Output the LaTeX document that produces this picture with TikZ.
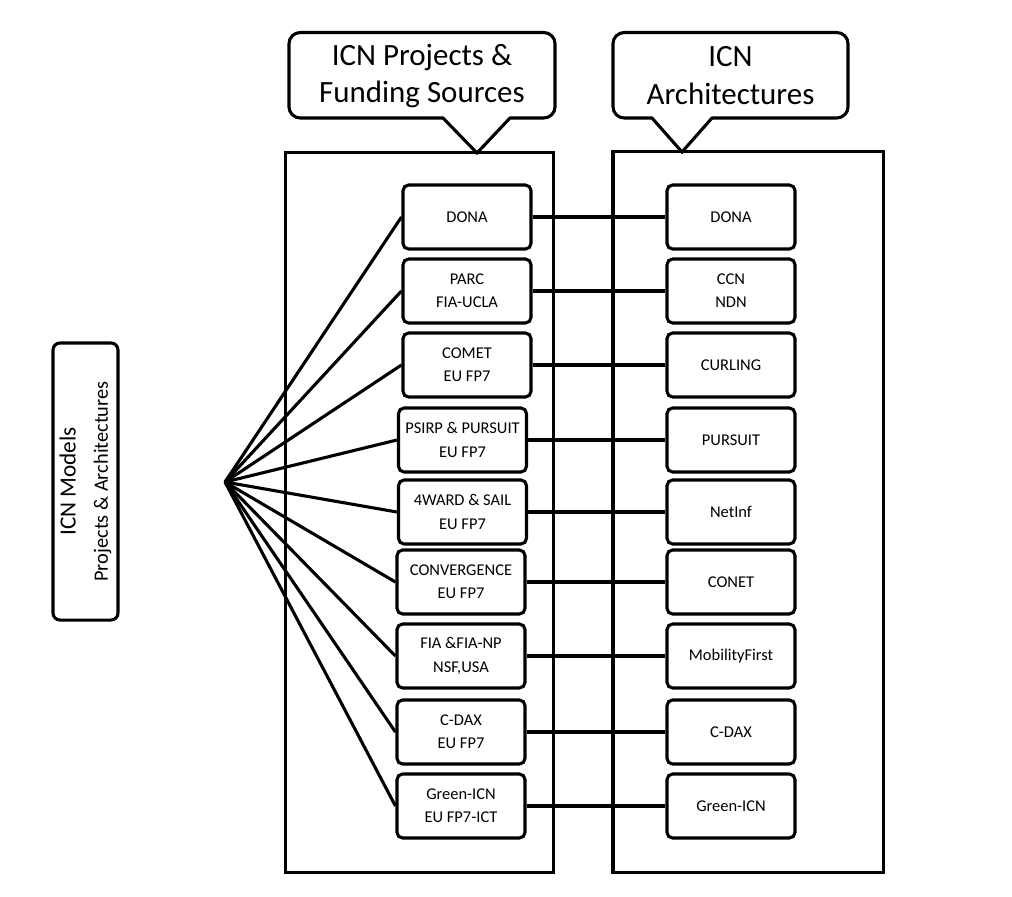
\documentclass[tikz,border=0pt]{standalone}
\usepackage{fontspec}
\setmainfont{Carlito}
\usetikzlibrary{positioning}

\begin{document}
\begin{tikzpicture}[
  x=0.025cm,y=-0.025cm,
  line width=2.2pt,
  entry/.style={draw,rounded corners=4pt,minimum width=3.2cm,minimum height=1.6cm,align=center,inner sep=2pt,font=\fontsize{11.7}{16.5}\selectfont},
  frame/.style={draw,minimum width=6.7cm,minimum height=17.975cm,outer sep=0pt},
  head/.style={minimum height=2.175cm,align=center,outer sep=0pt,inner sep=0pt,font=\fontsize{22}{27}\selectfont},
  callout/.style={line cap=round,line join=miter}
]
  \useasboundingbox (0,0) rectangle (1012,896);

  % the two frames and their headings
  \node[frame] (projframe) at (419.5,512.5) {};
  \node[frame,minimum width=6.75cm,minimum height=18cm] (archframe) at (748,512) {};

  \node[head,minimum width=6.65cm] (projhead) at (422,76) {ICN Projects \&\\Funding Sources};
  \node[head,minimum width=5.875cm] (archhead) at (730.5,76) {ICN\\Architectures};
  \coordinate (projtip) at (477,153);
  \coordinate (archtip) at (682,152);

  \draw[callout,rounded corners=8pt] (510,118) -- (projhead.south east|-510,118) -- (projhead.north east)
    -- (projhead.north west) -- (projhead.south west|-443,118) -- (443,118);
  \draw[callout] (443,118) -- (projtip) -- (510,118);
  \draw[callout,rounded corners=8pt] (712,118) -- (archhead.south east|-712,118) -- (archhead.north east)
    -- (archhead.north west) -- (archhead.south west|-652,118) -- (652,118);
  \draw[callout] (652,118) -- (archtip) -- (712,118);

  % projects and funding sources
  \node[entry] (dona) at (467,217) {DONA};
  \node[entry] (parc) at (467,291) {PARC\\FIA-UCLA};
  \node[entry] (comet) at (467,365) {COMET\\EU FP7};
  \node[entry] (psirp) at (462.5,440) {PSIRP \& PURSUIT\\EU FP7};
  \node[entry] (fourward) at (462.5,512) {4WARD \& SAIL\\EU FP7};
  \node[entry] (convergence) at (461,582) {CONVERGENCE\\EU FP7};
  \node[entry] (fia) at (461,656) {FIA \&FIA-NP\\NSF,USA};
  \node[entry] (cdax) at (461,732) {C-DAX\\EU FP7};
  \node[entry] (greenicn) at (461,806) {Green-ICN\\EU FP7-ICT};

  % architectures
  \node[entry] (adona) at (731,217) {DONA};
  \node[entry] (ccn) at (731,291) {CCN\\NDN};
  \node[entry] (curling) at (731,365) {CURLING};
  \node[entry] (pursuit) at (731,440) {PURSUIT};
  \node[entry] (netinf) at (731,512) {NetInf};
  \node[entry] (conet) at (731,582) {CONET};
  \node[entry] (mobility) at (731,656) {MobilityFirst};
  \node[entry] (acdax) at (731,732) {C-DAX};
  \node[entry] (agreenicn) at (731,806) {Green-ICN};

  % models label and fan
  \node[draw,rounded corners=5pt,rotate=90,minimum width=6.925cm,minimum height=1.625cm,align=center,
    font=\fontsize{14.5}{23}\selectfont] (models) at (85.5,481.5)
    {{\fontsize{16.5}{19}\selectfont ICN Models}\\Projects \& Architectures};
  \coordinate (hub) at (225,482);

  \foreach \n in {dona,parc,comet,psirp,fourward,convergence,fia,cdax,greenicn}
    \draw (hub) -- (\n.west);

  \draw (dona) -- (adona);
  \draw (parc) -- (ccn);
  \draw (comet) -- (curling);
  \draw (psirp) -- (pursuit);
  \draw (fourward) -- (netinf);
  \draw (convergence) -- (conet);
  \draw (fia) -- (mobility);
  \draw (cdax) -- (acdax);
  \draw (greenicn) -- (agreenicn);
\end{tikzpicture}
\end{document}
